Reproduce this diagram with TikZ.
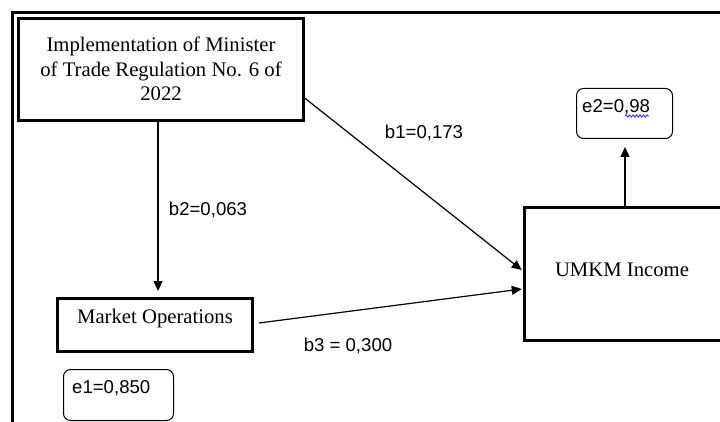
\documentclass[tikz,border=0pt]{standalone}
\usepackage{fontspec}
\setmainfont{Liberation Serif}
\newfontfamily\arialf{Liberation Sans}
\usetikzlibrary{arrows.meta,decorations.pathmorphing}
\definecolor{spellblue}{RGB}{40,60,230}
\begin{document}
\begin{tikzpicture}[x=1pt,y=-1pt,
  thickbox/.style={draw,line width=3pt,inner sep=0pt,fill=white},
  errbox/.style={draw,line width=1pt,rounded corners=7pt,inner sep=0pt},
  serif/.style={font=\fontsize{20.7}{24.5}\selectfont,align=center},
  lbl/.style={font=\arialf\fontsize{18.6}{22}\selectfont,inner sep=0pt},
  arr/.style={line width=1.2pt,-{Triangle[length=10pt,width=9pt]}}]
\useasboundingbox (0,0) rectangle (720,422);
\clip (0,0) rectangle (720,422);
% outer frame
\draw[line width=3pt] (12,430) -- (12,12.5) -- (730,12.5);
% boxes
\node[thickbox,minimum width=285pt,minimum height=102pt] (top) at (161,69.5) {};
\node[serif] (toptext) at (161,69) {Implementation of Minister\\of Trade Regulation No. 6 of\\2022};
\node[thickbox,minimum width=195pt,minimum height=53pt] (mkt) at (155,325) {};
\node[serif] (mkttext) at (155,319) {Market Operations};
\node[thickbox,minimum width=197pt,minimum height=133pt] (umkm) at (622.75,274) {};
\node[serif] (umkmtext) at (622,270) {UMKM Income};
\node[errbox,minimum width=96pt,minimum height=50pt] (e2) at (624.5,113.5) {};
\node[lbl,anchor=west] (e2text) at (582,107) {e2=0,98};
\node[errbox,minimum width=110pt,minimum height=51pt] (e1) at (118.5,395) {};
\node[lbl,anchor=west] (e1text) at (72,388) {e1=0,850};
% wavy spelling underline
\draw[spellblue,line width=0.9pt,decorate,decoration={snake,amplitude=1.1pt,segment length=3.5pt}] ([xshift=43pt,yshift=-9pt]e2text.west) coordinate (w1) -- ([xshift=-1pt,yshift=-9pt]e2text.east) coordinate (w2);
% connectors
\draw[arr] ([xshift=-3pt]top.south) -- ([xshift=3pt,yshift=6pt]mkt.north);
\draw[arr] ([yshift=-28pt,xshift=-1pt]top.east) -- ([yshift=4pt,xshift=-1pt]umkm.west);
\draw[arr] ([xshift=5pt,yshift=2pt]mkt.east) -- ([yshift=-15pt,xshift=-1pt]umkm.west);
\draw[arr] ([xshift=2.25pt]umkm.north) -- ([xshift=0.5pt,yshift=-8pt]e2.south);
% labels
\node[lbl] (b1) at (424,133) {b1=0,173};
\node[lbl] (b2) at (208,210) {b2=0,063};
\node[lbl] (b3) at (348,346) {b3 = 0,300};
\end{tikzpicture}
\end{document}
